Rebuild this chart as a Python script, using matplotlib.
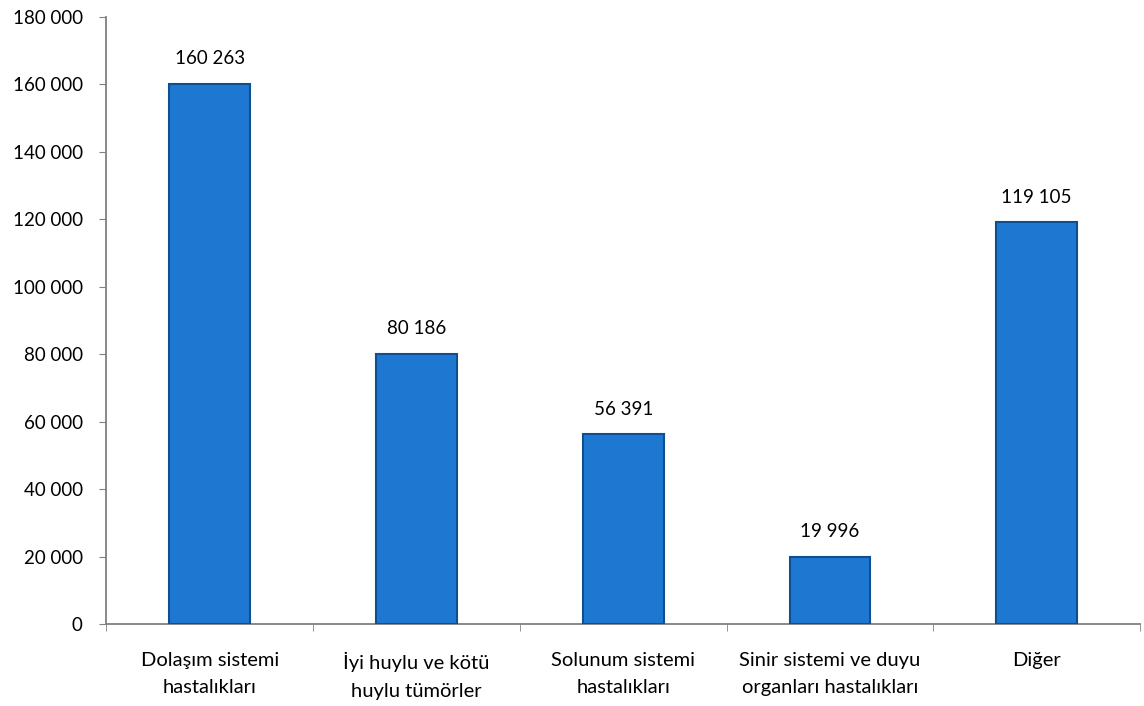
import matplotlib
matplotlib.use("Agg")
import matplotlib.pyplot as plt
from matplotlib.ticker import FuncFormatter, MultipleLocator

categories = ["Dolaşım sistemi\nhastalıkları", "İyi huylu ve kötü\nhuylu tümörler",
              "Solunum sistemi\nhastalıkları", "Sinir sistemi ve duyu\norganları hastalıkları",
              "Diğer"]
values = [160263, 80186, 56391, 19996, 119105]

plt.rcParams['font.family'] = ['Lato', 'DejaVu Sans']

fig = plt.figure(figsize=(11.44, 7.06), dpi=100)
ax = fig.add_axes([0.093, 0.116, 0.9035, 0.86])

x = list(range(len(categories)))
ax.bar(x, values, width=0.39, color="#1E78D2", edgecolor="#0D4F8F", linewidth=1.5, zorder=3)

def fmt(v):
    return f"{int(v):,}".replace(",", " ")

for xi, v in zip(x, values):
    ax.text(xi, v + 4800, fmt(v), ha="center", va="bottom", fontsize=13.5, color="#000000")

ax.set_xlim(-0.5, len(categories) - 0.5)
ax.set_ylim(0, 180000)
ax.yaxis.set_major_locator(MultipleLocator(20000))
ax.yaxis.set_major_formatter(FuncFormatter(lambda v, p: fmt(v)))

ax.set_xticks(x)
ax.set_xticklabels(categories, fontsize=14.5, color="#000000", linespacing=1.75)
ax.tick_params(axis="x", which="major", length=0, pad=20)
ax.set_xticks([i + 0.5 for i in range(-1, len(categories))], minor=True)
ax.tick_params(axis="x", which="minor", length=5, color="#808080", direction="out")
ax.tick_params(axis="y", length=5, color="#808080", labelsize=13.5, labelcolor="#000000", pad=12)

for s in ["top", "right"]:
    ax.spines[s].set_visible(False)
for s in ["left", "bottom"]:
    ax.spines[s].set_color("#808080")
    ax.spines[s].set_linewidth(1.3)

fig.savefig("out.png", dpi=100)
